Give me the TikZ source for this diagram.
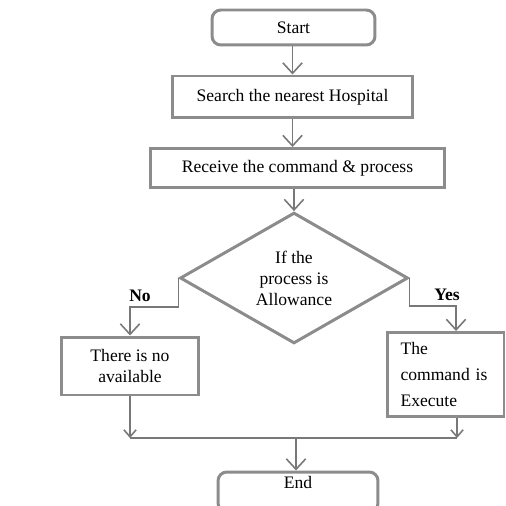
\documentclass[tikz,border=0pt]{standalone}
\usepackage{fontspec}
\setmainfont{Liberation Serif}
\usepackage{tikz}
\usetikzlibrary{shapes.geometric,arrows.meta}
\definecolor{scan}{RGB}{140,140,140}
\definecolor{wire}{RGB}{120,120,120}
\tikzset{
  box/.style={draw=scan, line width=1.7pt, inner sep=2pt, font=\normalsize},
  termbox/.style={box, rounded corners=5pt},
  testbox/.style={box, diamond, inner sep=0pt, align=center},
  flow/.style={draw=wire, line width=0.9pt, -{Straight Barb[length=6pt,width=11pt]}},
  flowsmall/.style={draw=wire, line width=0.9pt, -{Straight Barb[length=4pt,width=7pt]}},
  wireline/.style={draw=wire, line width=0.8pt},
  lbl/.style={font=\bfseries}
}
\begin{document}
\begin{tikzpicture}[x=0.02cm, y=-0.02cm]
\useasboundingbox (0,0) rectangle (505,506);
\clip (0,0) rectangle (505,506);
% boxes
\node[termbox, minimum width=3.26cm, minimum height=0.7cm] (start) at (293.5,27.5) {Start};
\node[box, minimum width=4.82cm, minimum height=0.84cm] (search) at (292.5,97) {Search the nearest Hospital};
\node[box, minimum width=5.9cm, minimum height=0.78cm] (receive) at (297.5,168) {Receive the command \& process};
\node[testbox, minimum width=4.56cm, minimum height=2.54cm] (cond) at (294,278) {If the\\ process is\\ Allowance};
\node[box, align=center, minimum width=2.76cm, minimum height=1.16cm] (nobox) at (130,366) {There is no\\ available};
\node[box, align=left, text width=1.8cm, minimum width=2.34cm, minimum height=1.68cm] (yesbox) at (445.5,374.5) {The\\[3pt] command is\\[3pt] Execute};
\node[termbox, minimum width=3.2cm, minimum height=0.8cm, text depth=0.4cm] (end) at (298,492) {End};
% labels
\node[lbl] (nolbl) at (140,296) {No};
\node[lbl] (yeslbl) at (447,295) {Yes};
% connectors
\coordinate (yesin) at ([xshift=0.21cm]yesbox.north);
\coordinate (yesout) at ([xshift=0.23cm]yesbox.south);
\coordinate (join) at (296,438);
\draw[flow] (start.south -| search.north) -- (search.north);
\draw[flow] (search.south) -- (search.south |- receive.north);
\draw[flow] (receive.south -| cond.north) -- (cond.north);
\draw[flow] (cond.west) -- ++(0,29) -| (nobox.north);
\draw[flow] (cond.east) -- ++(0,28) -| (yesin);
\draw[flowsmall] (nobox.south) -- (nobox.south |- join);
\draw[flowsmall] (yesout) -- (yesout |- join);
\draw[wireline] (nobox.south |- join) -- (yesout |- join);
\draw[flow] (join) -- (end.north -| join);
\end{tikzpicture}
\end{document}
